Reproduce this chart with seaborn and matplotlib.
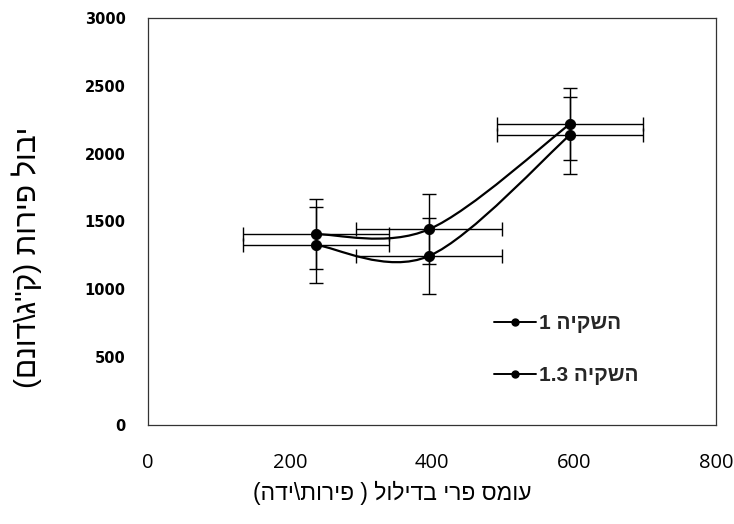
import re
import numpy as np
import seaborn as sns
import matplotlib
matplotlib.use("Agg")
import matplotlib.pyplot as plt
from matplotlib.path import Path
from matplotlib.patches import PathPatch
from matplotlib.lines import Line2D

# data
load = [237, 396, 594]                 # fruits per tree after thinning
yield_1 = [1327, 1246, 2136]           # irrigation 1
yield_13 = [1406, 1443, 2217]          # irrigation 1.3
yerr_1 = [283, 280, 284]
yerr_13 = [258, 258, 265]
xerr = [103, 103, 103]
labels = ["השקיה 1", "השקיה 1.3"]
x_title = "עומס פרי בדילול ( פירות\\ידה)"
y_title = "יבול פירות (ק\"ג\\דונם)"
x_ticks = [0, 200, 400, 600, 800]
y_ticks = [0, 500, 1000, 1500, 2000, 2500, 3000]


def rtl(s):
    # matplotlib has no bidi support: lay the hebrew out in visual order
    mirror = {"(": ")", ")": "("}
    out = []
    for p in reversed(re.split(r"([0-9.]+)", s)):
        if re.fullmatch(r"[0-9.]+", p):
            out.append(p)
        else:
            out.append("".join(mirror.get(c, c) for c in reversed(p)))
    return "".join(out)


def smooth(xs, ys, t=1/6):
    # excel style smoothed line as cubic bezier segments
    pts = np.column_stack([xs, ys]).astype(float)
    n = len(pts)
    verts, codes = [pts[0]], [Path.MOVETO]
    for i in range(n - 1):
        p0 = pts[i - 1] if i > 0 else pts[i]
        p1, p2 = pts[i], pts[i + 1]
        p3 = pts[i + 2] if i + 2 < n else pts[i + 1]
        verts += [p1 + (p2 - p0) * t, p2 - (p3 - p1) * t, p2]
        codes += [Path.CURVE4] * 3
    return Path(verts, codes)


sns.set_theme(style="white")
heb = ["Liberation Sans", "DejaVu Sans"]

fig = plt.figure(figsize=(7.34, 5.24), dpi=100)
ax = fig.add_axes([0.2016, 0.189, 0.7738, 0.7766])

for ys, ye in [(yield_1, yerr_1), (yield_13, yerr_13)]:
    ax.errorbar(load, ys, xerr=xerr, yerr=ye, fmt="none", ecolor="black",
                elinewidth=1.0, capsize=5, capthick=1.0, zorder=2)
    ax.add_patch(PathPatch(smooth(load, ys), fill=False, ec="black", lw=1.6, zorder=3))
    sns.scatterplot(x=load, y=ys, color="black", s=55, edgecolor="black", zorder=4, ax=ax)

ax.set_xlim(0, 800)
ax.set_ylim(0, 3000)
ax.set_xticks(x_ticks)
ax.set_yticks(y_ticks)
ax.tick_params(length=0)
ax.tick_params(axis="x", pad=20)
ax.tick_params(axis="y", pad=16)
for t in ax.get_xticklabels():
    t.set_fontfamily("Open Sans")
    t.set_fontsize(14.5)
    t.set_color("black")
for t in ax.get_yticklabels():
    t.set_fontfamily("DejaVu Sans")
    t.set_fontweight("bold")
    t.set_fontsize(10.5)
    t.set_color("black")

for s in ax.spines.values():
    s.set_color("#333333")
    s.set_linewidth(0.9)

ax.set_xlabel(rtl(x_title), family=heb, fontsize=16.5, color="black")
ax.set_ylabel(rtl(y_title), family=heb, fontsize=21.5, color="black")
ax.xaxis.set_label_coords(0.43, -0.137)
ax.yaxis.set_label_coords(-0.186, 0.413)

handles = [Line2D([], [], color="black", lw=1.4, marker="o", markersize=5) for _ in labels]
ax.legend(handles, [rtl(l) for l in labels], loc="center left", bbox_to_anchor=(0.576, 0.185),
          frameon=False, handlelength=2.0, labelspacing=1.6, handletextpad=0.15,
          prop={"family": heb, "weight": "bold", "size": 15})

fig.savefig("out.png", dpi=100)
